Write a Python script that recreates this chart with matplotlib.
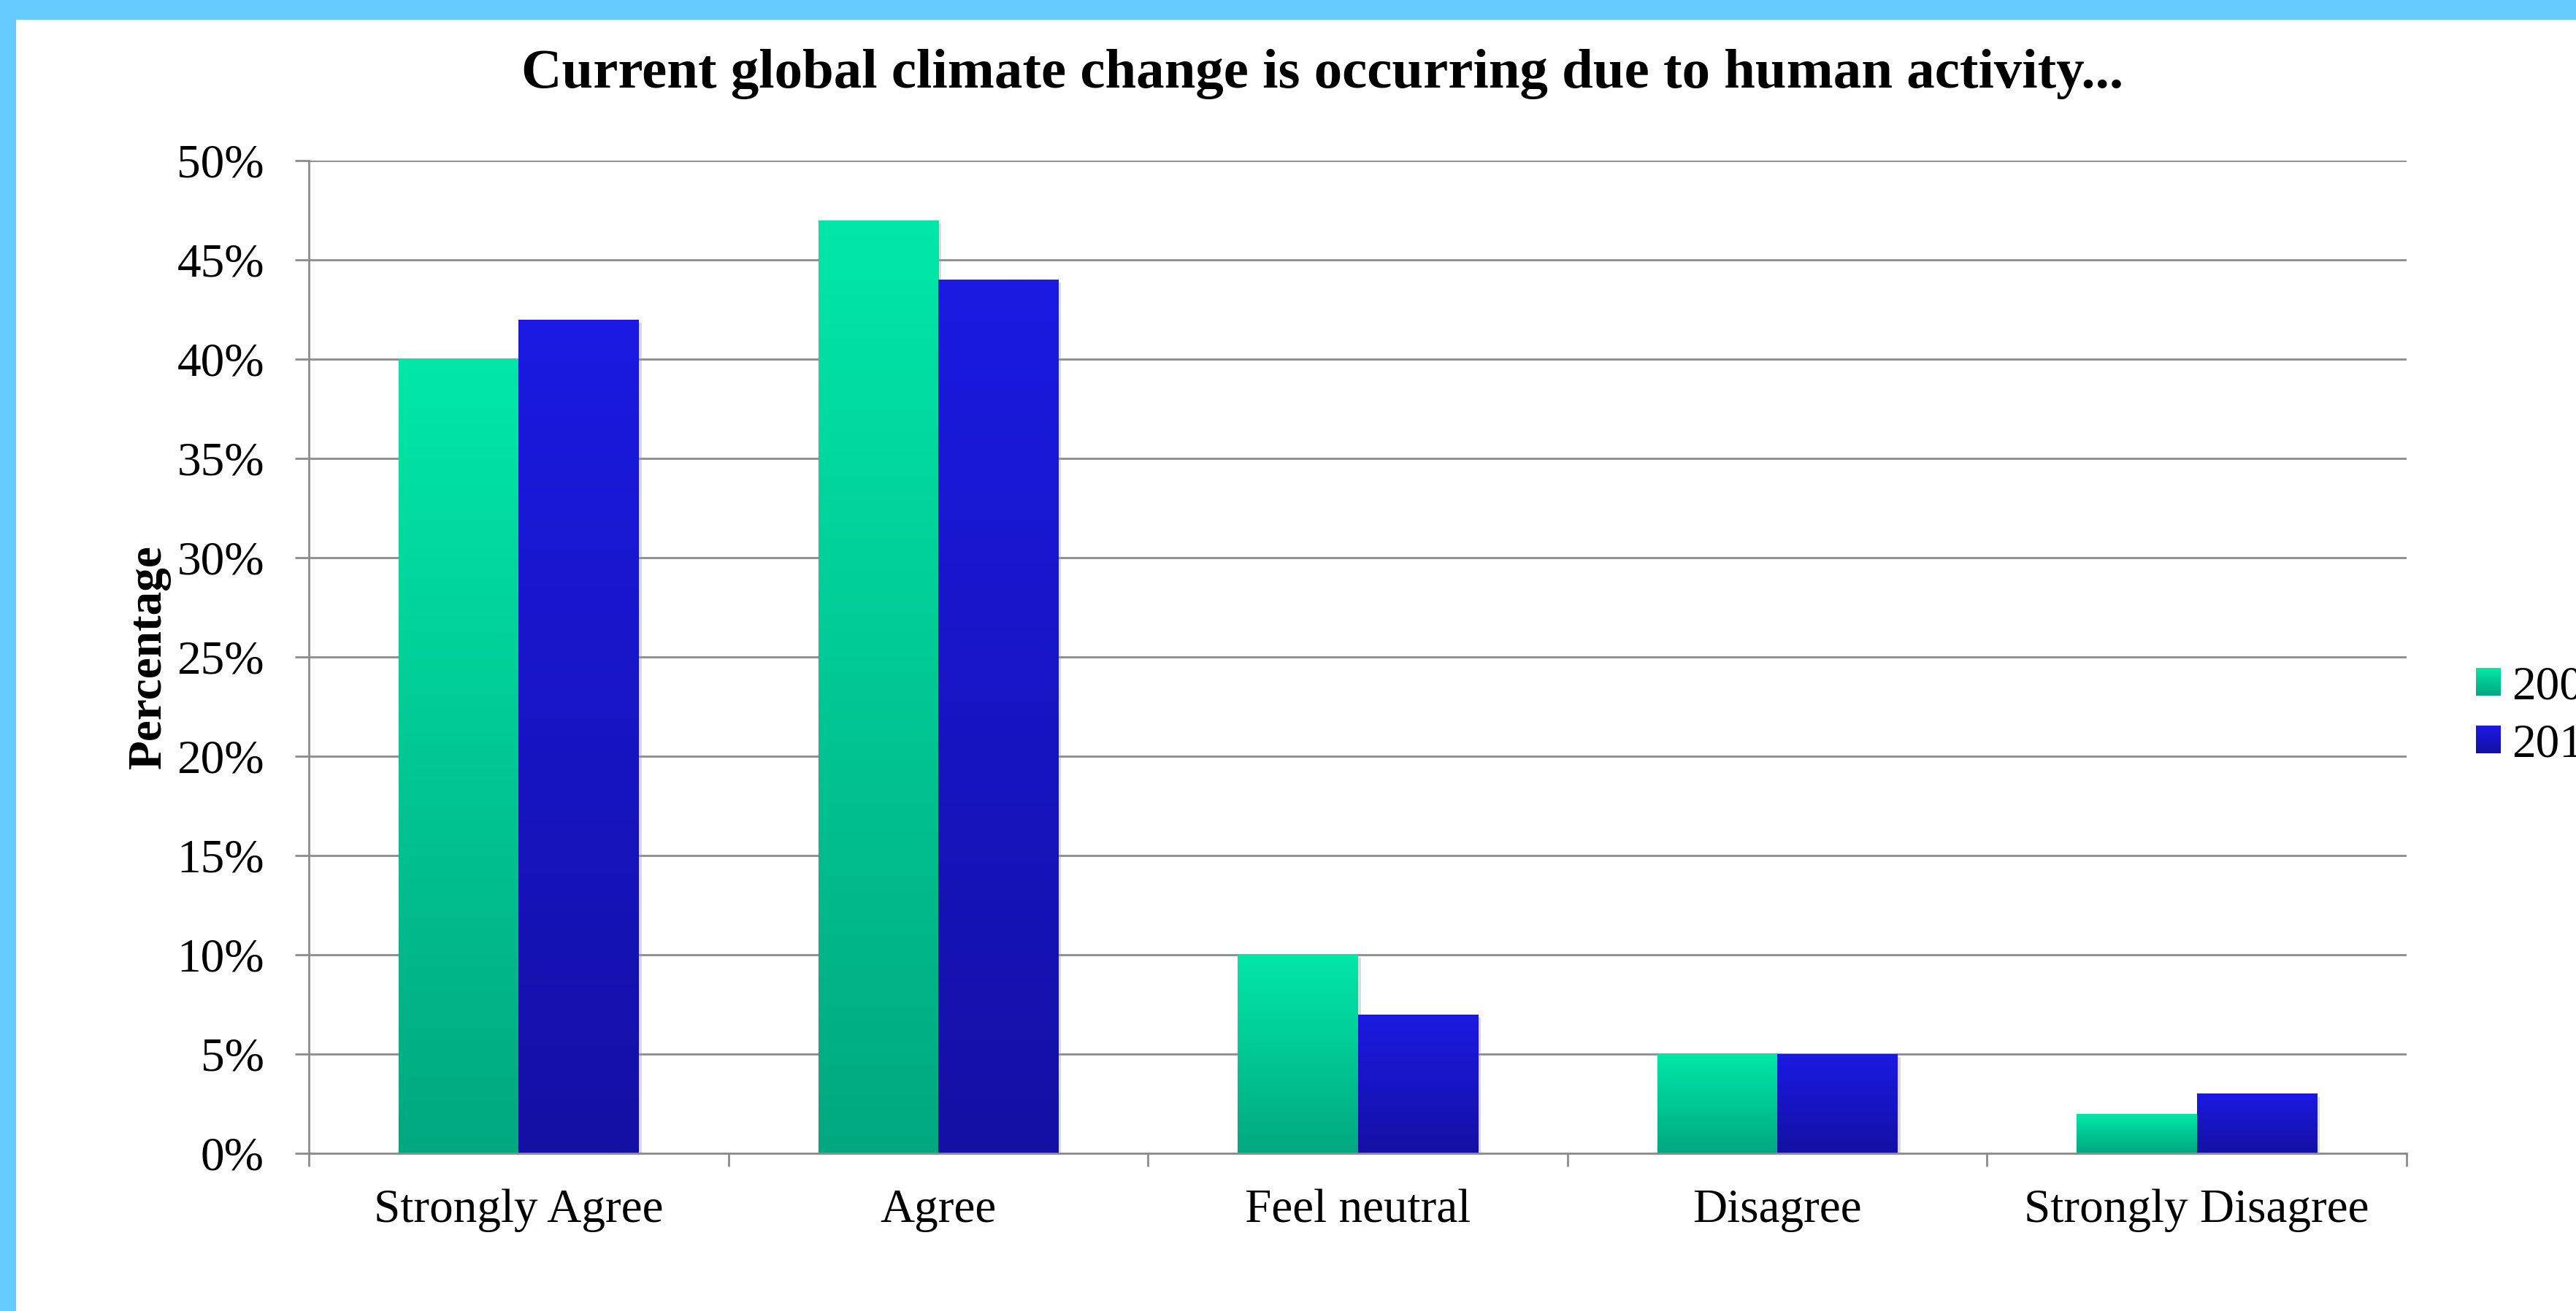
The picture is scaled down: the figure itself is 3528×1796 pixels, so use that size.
import numpy as np
import matplotlib
matplotlib.use("Agg")
import matplotlib.pyplot as plt
from matplotlib.patches import Rectangle
from matplotlib.legend_handler import HandlerBase
from matplotlib.image import BboxImage
from matplotlib.transforms import Bbox, TransformedBbox
from matplotlib.ticker import FixedLocator, MultipleLocator, PercentFormatter
import matplotlib.patheffects as pe

# Survey responses (percent of respondents)
categories = ["Strongly Agree", "Agree", "Feel neutral", "Disagree", "Strongly Disagree"]
series_labels = ["2009", "2012"]
values_first = [40, 47, 10, 5, 2]
values_second = [42, 44, 7, 5, 3]

title = "Current global climate change is occurring due to human activity..."
y_label = "Percentage"

# Vertical gradients (top colour, bottom colour) for each series
grad_colors = [("#00E8A8", "#00A880"), ("#1A1AE2", "#1410A4")]

plt.rcParams["font.family"] = ["Liberation Serif", "DejaVu Serif"]

W, H, DPI = 3528, 1796, 100
fig = plt.figure(figsize=(W / DPI, H / DPI), dpi=DPI, facecolor="#66CCFF")

# white slide area inside the blue frame
fig.patches.append(Rectangle((22 / W, 0), 1, 1 - 27 / H, transform=fig.transFigure,
                             facecolor="white", edgecolor="none", zorder=-5))

ax = fig.add_axes([423 / W, 1 - 1580 / H, (3296 - 423) / W, (1580 - 220) / H])
ax.set_facecolor("none")


def gradient_rgb(top, bottom, n=256):
    c_top = np.array(matplotlib.colors.to_rgb(top))
    c_bot = np.array(matplotlib.colors.to_rgb(bottom))
    t = np.linspace(0, 1, n)[:, None]
    return (c_top * (1 - t) + c_bot * t)[:, None, :]


x = np.arange(len(categories))
bw = 0.286
shadow = [pe.SimplePatchShadow(offset=(3, -3), shadow_rgbFace="#9a9a9a", alpha=0.35), pe.Normal()]
for i, vals in enumerate([values_first, values_second]):
    offs = (i - 0.5) * bw
    bars = ax.bar(x + offs, vals, width=bw, color=grad_colors[i][0], edgecolor="none",
                  zorder=2, label=series_labels[i], path_effects=shadow)
    grad = gradient_rgb(*grad_colors[i])
    for b in bars:
        x0, y0 = b.get_x(), b.get_y()
        im = ax.imshow(grad, extent=(x0, x0 + b.get_width(), y0, y0 + b.get_height()),
                       aspect="auto", interpolation="bilinear", zorder=2.5, origin="upper")
        im.set_clip_path(b)

ax.set_xlim(-0.5, len(categories) - 0.5)
ax.set_ylim(0, 50)
ax.yaxis.set_major_locator(MultipleLocator(5))
ax.yaxis.set_major_formatter(PercentFormatter(decimals=0))
ax.set_xticks(x)
ax.set_xticklabels(categories)
ax.xaxis.set_minor_locator(FixedLocator(np.arange(-0.5, len(categories), 1.0)))

grid_c = "#8C8C8C"
ax.grid(axis="y", color=grid_c, linewidth=2.0, zorder=0)
ax.set_axisbelow(True)
for s in ["top", "right"]:
    ax.spines[s].set_visible(False)
for s in ["left", "bottom"]:
    ax.spines[s].set_color(grid_c)
    ax.spines[s].set_linewidth(2.0)

ax.tick_params(axis="y", which="major", length=14, width=2.0, color=grid_c, pad=30,
               labelsize=47)
ax.tick_params(axis="x", which="major", length=0, pad=35, labelsize=47)
ax.tick_params(axis="x", which="minor", length=13, width=2.0, color=grid_c)

ax.set_ylabel(y_label, fontsize=47, fontweight="bold", va="center")
ax.yaxis.set_label_coords((204 - 423) / (3296 - 423), 0.5)

fig.text(1811 / W, 1 - 102 / H, title, ha="center", va="center", fontsize=55.4,
         fontweight="bold")


class GradientHandler(HandlerBase):
    def __init__(self, colors):
        super().__init__()
        self.colors = colors

    def create_artists(self, legend, orig_handle, xdescent, ydescent, width, height,
                       fontsize, trans):
        bb = Bbox.from_bounds(-xdescent, -ydescent, width, height)
        img = BboxImage(TransformedBbox(bb, trans), interpolation="bilinear")
        img.set_data(gradient_rgb(*self.colors, n=64))
        return [img]


handles = ax.containers
leg = fig.legend(handles, series_labels, loc="center left",
                 bbox_to_anchor=(3391 / W, 1 - 981 / H), frameon=False, fontsize=47,
                 handlelength=0.51, handleheight=0.51, handletextpad=0.25,
                 labelspacing=0.3, borderpad=0, borderaxespad=0,
                 handler_map={handles[0]: GradientHandler(grad_colors[0]),
                              handles[1]: GradientHandler(grad_colors[1])})

fig.savefig("out.png", dpi=DPI, facecolor=fig.get_facecolor())
